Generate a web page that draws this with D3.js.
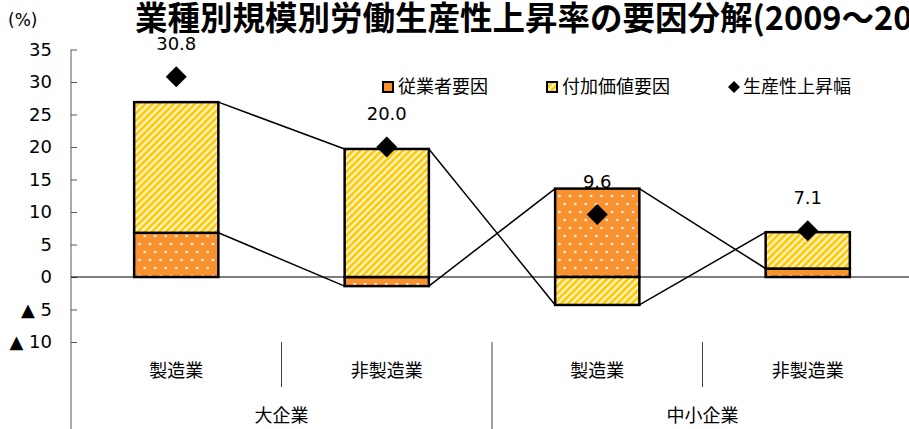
<!DOCTYPE html>
<meta charset="utf-8">
<script src="https://cdn.jsdelivr.net/npm/d3@7/dist/d3.min.js"></script>
<style>
  body { margin: 0; background: #fff; }
  text { fill: #000; }
</style>
<div id="chart"></div>
<script>
// data
var groupLabels = ["大企業", "中小企業"];
var subLabels = ["製造業", "非製造業", "製造業", "非製造業"];
var employeeFactor = [6.8, -1.4, 13.6, 1.3];     // 従業者要因
var valueAddedFactor = [20.1, 19.7, -4.3, 5.6];  // 付加価値要因
var productivity = [30.8, 20.0, 9.6, 7.1];       // 生産性上昇幅
var yTicks = [35, 30, 25, 20, 15, 10, 5, 0, -5, -10];
var legendLabels = ["従業者要因", "付加価値要因", "生産性上昇幅"];

var W = 909, H = 429;
var numFont = "'DejaVu Sans', Verdana, sans-serif";
var jpFont = "'Noto Sans CJK JP', sans-serif";

var svg = d3.select("#chart").append("svg")
  .attr("width", W).attr("height", H);

// patterns
var defs = svg.append("defs");
var dots = defs.append("pattern")
  .attr("id", "dots").attr("patternUnits", "userSpaceOnUse")
  .attr("width", 10.5).attr("height", 16);
dots.append("rect").attr("width", 10.5).attr("height", 16).attr("fill", "#F7922F");
dots.append("circle").attr("cx", 3).attr("cy", 4).attr("r", 1.3).attr("fill", "#fff").attr("opacity", 0.9);
dots.append("circle").attr("cx", 8.25).attr("cy", 12).attr("r", 1.3).attr("fill", "#fff").attr("opacity", 0.9);

var stripes = defs.append("pattern")
  .attr("id", "stripes").attr("patternUnits", "userSpaceOnUse")
  .attr("width", 5).attr("height", 5)
  .attr("patternTransform", "rotate(-45)");
stripes.append("rect").attr("width", 5).attr("height", 5).attr("fill", "#FFF6D0");
stripes.append("rect").attr("width", 5).attr("height", 2.7).attr("fill", "#FFC800");

// scales
var idx = d3.range(subLabels.length);
var x = d3.scaleBand().domain(idx).range([71, 913]).padding(0);
var y = d3.scaleLinear().domain([-10, 35]).range([342, 49.5]);
var barW = x.bandwidth() * 0.4;
function cx(i) { return x(i) + x.bandwidth() / 2; }

// stacking (positive and negative stacked separately)
var series = [employeeFactor, valueAddedFactor];
var fills = ["url(#dots)", "url(#stripes)"];
var stacks = series.map(function() { return []; });
idx.forEach(function(i) {
  var pos = 0, neg = 0;
  series.forEach(function(s, k) {
    var v = s[i];
    if (v >= 0) { stacks[k].push({i: i, y0: pos, y1: pos + v, end: pos + v}); pos += v; }
    else { stacks[k].push({i: i, y0: neg + v, y1: neg, end: neg + v}); neg += v; }
  });
});

// y axis
var yAxis = svg.append("g")
  .attr("transform", "translate(71,0)")
  .call(d3.axisLeft(y).tickValues(yTicks).tickSizeInner(-6).tickSizeOuter(0).tickPadding(19)
    .tickFormat(function(d) { return d < 0 ? "▲ " + Math.abs(d) : d; }));
yAxis.select(".domain").remove();
yAxis.selectAll(".tick line").attr("stroke", "#595959");
yAxis.selectAll(".tick text").attr("font-family", numFont).attr("font-size", 18).attr("fill", "#000");

svg.append("line").attr("x1", 71).attr("x2", 71).attr("y1", 49.5).attr("y2", H)
  .attr("stroke", "#595959");

// category dividers
idx.slice(1).forEach(function(i) {
  var isGroup = i % 2 === 0;
  svg.append("line")
    .attr("x1", x(i)).attr("x2", x(i))
    .attr("y1", 342).attr("y2", isGroup ? H : 387)
    .attr("stroke", "#404040");
});

svg.selectAll(".sublabel").data(subLabels).enter().append("text")
  .attr("x", function(d, i) { return cx(i); })
  .attr("y", 371).attr("dy", "0.36em")
  .attr("text-anchor", "middle")
  .attr("font-family", jpFont).attr("font-size", 18)
  .text(function(d) { return d; });

svg.selectAll(".grouplabel").data(groupLabels).enter().append("text")
  .attr("x", function(d, g) { return (x(g * 2) + x(g * 2 + 1) + x.bandwidth()) / 2; })
  .attr("y", 416).attr("dy", "0.36em")
  .attr("text-anchor", "middle")
  .attr("font-family", jpFont).attr("font-size", 18)
  .text(function(d) { return d; });

// series lines between bars
stacks.forEach(function(st) {
  for (var j = 0; j < st.length - 1; j++) {
    svg.append("line")
      .attr("x1", cx(st[j].i) + barW / 2).attr("y1", y(st[j].end))
      .attr("x2", cx(st[j + 1].i) - barW / 2).attr("y2", y(st[j + 1].end))
      .attr("stroke", "#000").attr("stroke-width", 1.5);
  }
});

// bars
stacks.forEach(function(st, k) {
  svg.selectAll(".bar" + k).data(st).enter().append("rect")
    .attr("x", function(d) { return cx(d.i) - barW / 2; })
    .attr("y", function(d) { return y(d.y1); })
    .attr("width", barW)
    .attr("height", function(d) { return y(d.y0) - y(d.y1); })
    .attr("fill", fills[k])
    .attr("stroke", "#000").attr("stroke-width", 2.5);
});

// zero line
svg.append("line").attr("x1", 71).attr("x2", W).attr("y1", y(0)).attr("y2", y(0))
  .attr("stroke", "#000").attr("stroke-width", 1);

// productivity diamonds and labels
var diamond = d3.symbol().type(d3.symbolSquare).size(220);
svg.selectAll(".pt").data(productivity).enter().append("path")
  .attr("d", diamond)
  .attr("transform", function(d, i) { return "translate(" + cx(i) + "," + y(d) + ") rotate(45)"; })
  .attr("fill", "#000");

svg.selectAll(".ptlabel").data(productivity).enter().append("text")
  .attr("x", function(d, i) { return cx(i); })
  .attr("y", function(d) { return y(d) - 27; })
  .attr("text-anchor", "middle")
  .attr("font-family", numFont).attr("font-size", 18)
  .text(function(d) { return d.toFixed(1); });

// legend
var legendX = [382, 546, 728];
legendLabels.forEach(function(lbl, k) {
  var g = svg.append("g").attr("transform", "translate(" + legendX[k] + ",87)");
  if (k < 2) {
    g.append("rect").attr("x", 1).attr("y", -5).attr("width", 10).attr("height", 10)
      .attr("fill", k === 0 ? "#F7922F" : "url(#stripes)")
      .attr("stroke", "#000").attr("stroke-width", 2);
  } else {
    g.append("path").attr("d", d3.symbol().type(d3.symbolSquare).size(72))
      .attr("transform", "translate(6,0) rotate(45)").attr("fill", "#000");
  }
  g.append("text").attr("x", k < 2 ? 16 : 15).attr("dy", "0.36em")
    .attr("font-family", jpFont).attr("font-size", 18)
    .text(lbl);
});

// titles
svg.append("text").attr("x", 8).attr("y", 20).attr("dy", "0.36em")
  .attr("font-family", numFont).attr("font-size", 17)
  .text("(%)");

svg.append("text").attr("x", 135).attr("y", 18).attr("dy", "0.36em")
  .attr("font-family", jpFont).attr("font-size", 32.5).attr("font-weight", "bold")
  .text("業種別規模別労働生産性上昇率の要因分解(2009～2012)");
</script>
